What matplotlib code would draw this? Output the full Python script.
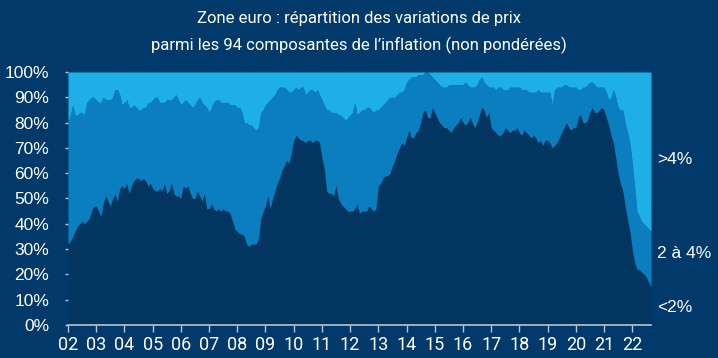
import matplotlib.pyplot as plt
import numpy as np

# part des composantes avec inflation < 2% (bas) et < 4% (cumul), mensuel depuis janv. 2002
bas = [32, 33, 35, 37, 39, 40, 41, 40, 41, 42, 45, 47,
       47, 45, 43, 48, 51, 49, 47, 50, 52, 49, 54, 55,
       54, 56, 52, 55, 57, 58, 58, 57, 58, 57, 55, 56,
       54, 53, 53, 54, 53, 56, 52, 53, 56, 52, 51, 51,
       50, 55, 54, 55, 52, 50, 50, 53, 51, 49, 52, 46,
       46, 48, 46, 45, 46, 45, 46, 45, 45, 44, 41, 38,
       37, 36, 36, 35, 32, 31, 32, 32, 32, 34, 42, 45,
       47, 51, 46, 50, 53, 56, 58, 61, 63, 65, 64, 68,
       73, 75, 74, 73, 73, 72, 73, 73, 72, 73, 73, 72,
       66, 62, 53, 52, 52, 51, 55, 50, 48, 47, 46, 45,
       45, 45, 46, 48, 44, 45, 45, 45, 47, 46, 45, 46,
       55, 56, 58, 59, 59, 60, 63, 65, 68, 70, 72, 71,
       74, 77, 74, 74, 76, 77, 80, 84, 85, 82, 82, 86,
       84, 82, 80, 79, 78, 78, 77, 76, 78, 79, 80, 82,
       80, 79, 80, 82, 80, 78, 80, 83, 86, 85, 82, 84,
       78, 77, 76, 75, 75, 76, 78, 77, 76, 77, 77, 78,
       76, 75, 77, 76, 75, 74, 75, 74, 72, 73, 71, 73,
       73, 72, 70, 71, 72, 74, 76, 78, 80, 78, 77, 78,
       78, 82, 83, 80, 80, 81, 84, 86, 84, 84, 85, 86,
       85, 82, 79, 75, 72, 66, 60, 56, 53, 47, 42, 37,
       30, 25, 22, 22, 21, 20, 19, 17, 15]

cumul = [80, 83, 87, 83, 83, 84, 84, 83, 88, 89, 90, 90,
         89, 88, 88, 90, 89, 89, 89, 90, 93, 93, 91, 87,
         88, 89, 86, 86, 87, 86, 85, 85, 86, 86, 88, 88,
         89, 90, 90, 88, 88, 88, 89, 89, 89, 90, 91, 89,
         87, 88, 89, 88, 87, 86, 87, 89, 90, 88, 87, 86,
         84, 86, 88, 89, 89, 88, 88, 88, 88, 87, 87, 87,
         86, 86, 84, 80, 80, 79, 79, 78, 77, 78, 84, 85,
         87, 88, 89, 90, 91, 93, 94, 94, 94, 93, 92, 92,
         93, 94, 93, 94, 94, 91, 92, 93, 93, 92, 93, 91,
         89, 87, 85, 85, 84, 84, 84, 83, 83, 82, 81, 82,
         83, 84, 88, 83, 84, 85, 85, 86, 86, 85, 84, 85,
         85, 86, 87, 88, 89, 90, 90, 90, 91, 92, 92, 93,
         96, 97, 98, 98, 98, 99, 99, 99, 100, 100, 99, 98,
         97, 96, 95, 94, 94, 94, 95, 95, 95, 95, 95, 95,
         95, 96, 95, 94, 94, 94, 95, 97, 98, 96, 95, 94,
         94, 94, 93, 94, 94, 93, 93, 93, 94, 94, 94, 94,
         94, 93, 93, 93, 92, 92, 92, 92, 93, 92, 92, 92,
         92, 92, 87, 93, 94, 94, 94, 95, 95, 94, 94, 94,
         94, 93, 93, 94, 94, 95, 96, 96, 95, 94, 94, 94,
         94, 92, 89, 90, 93, 90, 86, 85, 85, 80, 76, 72,
         64, 55, 45, 43, 41, 40, 39, 38, 37]

annees = list(range(2002, 2023))
etiquettes = ["%02d" % (a % 100) for a in annees]
yticks = list(range(0, 101, 10))

fond = "#01396A"
c_bas = "#02355F"
c_mid = "#0A7EBF"
c_haut = "#1EAFE7"

x = 2002 + np.arange(len(bas)) / 12

fig = plt.figure(figsize=(7.18, 3.58), dpi=100, facecolor=fond)
ax = fig.add_axes([0.0947, 0.0922, 0.8120, 0.7067])
ax.set_facecolor(fond)

ax.fill_between(x, 0, bas, color=c_bas, lw=0)
ax.fill_between(x, bas, cumul, color=c_mid, lw=0)
ax.fill_between(x, cumul, 100, color=c_haut, lw=0)

ax.set_xlim(x[0], x[-1])
ax.set_ylim(0, 100)

for s in ["top", "right", "left"]:
    ax.spines[s].set_visible(False)
ax.spines["bottom"].set_color("#B7C3D3")
ax.spines["bottom"].set_linewidth(1.2)

ax.set_xticks(annees)
ax.set_xticklabels(etiquettes, family=["Roboto", "DejaVu Sans"], fontsize=13, color="white")
ax.tick_params(axis="x", direction="out", length=5, width=1, color="#B7C3D3", pad=3)

ax.set_yticks(yticks)
ax.set_yticklabels(["%d%%" % v for v in yticks], family=["Liberation Sans", "DejaVu Sans"], fontsize=12.5, color="white")
ax.tick_params(axis="y", direction="out", length=2.5, width=1, color="#B7C3D3", pad=11)

fig.text(0.5, 0.947, "Zone euro : répartition des variations de prix",
         ha="center", va="center", color="white", fontsize=12,
         family=["Roboto", "DejaVu Sans"])
fig.text(0.5, 0.872, "parmi les 94 composantes de l\u2019inflation (non pondérées)",
         ha="center", va="center", color="white", fontsize=12,
         family=["Roboto", "DejaVu Sans"])

for txt, yy in [(">4%", 160), ("2 à 4%", 253), ("<2%", 307)]:
    fig.text(657 / 718, 1 - yy / 358, txt, ha="left", va="center", color="white",
             fontsize=12.5, family=["Liberation Sans", "DejaVu Sans"])

fig.savefig("out.png", dpi=100, facecolor=fond)
